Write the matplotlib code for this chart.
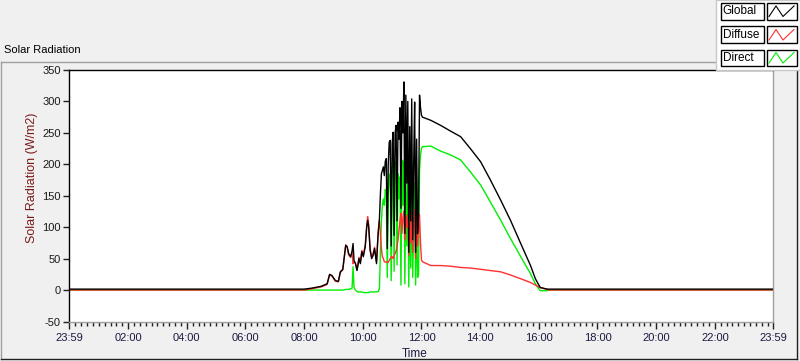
import matplotlib
matplotlib.use("Agg")
import matplotlib.pyplot as plt
from matplotlib.lines import Line2D
from matplotlib.patches import Rectangle
import numpy as np

# ---------------- data ----------------
time_labels = [
    "00:00", "08:00", "08:15", "08:35", "08:47", "08:52", "08:57", "09:04", "09:10", "09:14",
    "09:19", "09:25", "09:28", "09:31", "09:35", "09:38", "09:40", "09:42", "09:45", "09:48",
    "09:50", "09:52", "09:55", "09:58", "10:01", "10:05", "10:08", "10:10", "10:12", "10:15",
    "10:18", "10:21", "10:24", "10:28", "10:31", "10:32",
    "10:34", "10:36", "10:38", "10:40", "10:42", "10:44", "10:46", "10:48", "10:50", "10:52",
    "10:54", "10:56", "10:58", "11:00", "11:02", "11:04", "11:06", "11:08", "11:10", "11:12",
    "11:14", "11:16", "11:18", "11:20", "11:22", "11:24", "11:26", "11:28", "11:30", "11:32",
    "11:34", "11:36", "11:38", "11:40", "11:42", "11:44", "11:46", "11:48", "11:50", "11:52",
    "11:54", "11:56", "11:58", "12:00", "12:02",
    "12:19", "12:39", "12:59", "13:20", "13:40", "14:01", "14:21", "14:42", "15:02", "15:23",
    "15:43", "15:53", "16:00", "16:03", "16:17", "16:20", "23:59",
]

global_rad = [
    1.5, 1.5, 3, 6, 10, 25, 23, 15, 14, 29,
    33, 71, 69, 58, 53, 62, 74, 47, 42, 31,
    39, 50, 42, 61, 53, 69, 100, 111, 100, 63,
    50, 55, 66, 42, 85, 95,
    114, 153, 185, 190, 196, 182, 205, 209, 66, 200,
    235, 238, 70, 233, 251, 87, 249, 262, 110, 267,
    240, 290, 130, 300, 250, 331, 90, 310, 170, 300,
    60, 260, 110, 304, 80, 200, 299, 60, 240, 90,
    120, 310, 290, 278, 275,
    270, 262, 253, 244, 225, 204, 175, 143, 111, 74,
    39, 18, 8, 4, 1.5, 1.5, 1.5,
]

diffuse_rad = [
    0, 0, 2, 5, 9, 24, 22, 14, 13, 28,
    32, 72, 68, 56, 52, 60, 42, 45, 43, 33,
    41, 52, 45, 63, 56, 72, 104, 117, 104, 66,
    53, 58, 68, 45, 88, 98,
    111, 90, 66, 53, 50, 45, 45, 44, 45, 44,
    47, 50, 53, 53, 50, 55, 58, 62, 70, 80,
    95, 110, 122, 90, 115, 125, 80, 118, 100, 120,
    55, 110, 75, 125, 60, 100, 128, 50, 115, 70,
    95, 120, 75, 48, 45,
    39, 39, 38, 36, 35, 33, 31, 29, 24, 18,
    12, 8, 5, 4, 1, 0, 0,
]

direct_rad = [
    0, 0, 0, 0, 0, 0, 0, 0, 0, 0,
    0, 1, 1, 1, 2, 3, 37, 4, 0, -2,
    -3, -3, -3, -3, -4, -4, -4, -4, -4, -3,
    -3, -3, -3, -3, -2, -2,
    3, 63, 110, 135, 145, 135, 160, 151, 20, 150,
    182, 185, 15, 175, 200, 30, 190, 204, 40, 185,
    145, 180, 8, 207, 135, 205, 10, 190, 70, 180,
    5, 150, 35, 178, 20, 100, 170, 8, 125, 20,
    25, 190, 215, 225, 228,
    229, 221, 215, 207, 188, 167, 140, 111, 82, 53,
    26, 10, 2, -1, -1, 0, 0,
]

series_names = ["Global", "Diffuse", "Direct"]
series_colors = ["#000000", "#ff3030", "#00ee00"]

x_tick_labels = ["23:59", "02:00", "04:00", "06:00", "08:00", "10:00", "12:00",
                 "14:00", "16:00", "18:00", "20:00", "22:00", "23:59"]
y_ticks = [-50, 0, 50, 100, 150, 200, 250, 300, 350]

# ---------------- helpers ----------------
W, H = 800, 361


def fx(x):
    return x / W


def fy(y):
    return 1 - y / H


def to_hours(s):
    hh, mm = s.split(":")
    return int(hh) + int(mm) / 60.0


hours = [to_hours(s) for s in time_labels]
hours[0] = -1 / 60.0

plt.rcParams['font.family'] = ['Liberation Sans', 'DejaVu Sans']

fig = plt.figure(figsize=(W / 100, H / 100), dpi=100)
fig.patch.set_facecolor("#f0f0f0")

# outer panel frame
fig.add_artist(Line2D([fx(1), fx(1)], [fy(62), fy(359)], color="#a0a0a0", lw=1))
fig.add_artist(Line2D([fx(1), fx(797)], [fy(62), fy(62)], color="#a0a0a0", lw=1))
fig.add_artist(Line2D([fx(1), fx(797)], [fy(359), fy(359)], color="#202020", lw=1))
fig.add_artist(Line2D([fx(797), fx(797)], [fy(62), fy(359)], color="#202020", lw=1))

fig.text(fx(4), fy(50), "Solar Radiation", fontsize=8, color="#000000",
         ha="left", va="center")

ax = fig.add_axes([fx(69), fy(321.5), (773 - 69) / W, (321.5 - 70) / H])
ax.set_facecolor("white")

zorders = [3, 2, 1]
for vals, c, z in zip([global_rad, diffuse_rad, direct_rad], series_colors, zorders):
    ax.plot(hours, vals, color=c, lw=1.0, zorder=z)

ax.set_xlim(-1 / 60.0, 24 - 1 / 60.0)
ax.set_ylim(-50, 350)

major_x = [-1 / 60.0] + list(range(2, 24, 2)) + [24 - 1 / 60.0]
ax.set_xticks(major_x)
ax.set_xticklabels(x_tick_labels)
ax.set_xticks([m for m in np.arange(0.2, 24, 0.2) if abs(m / 2 - round(m / 2)) > 1e-6],
              minor=True)
ax.set_yticks(y_ticks)
ax.set_yticklabels([str(v) for v in y_ticks])

ax.tick_params(axis="x", which="major", direction="out", length=5, width=1,
               color="#202020", labelsize=8, labelcolor="#1a1a40", pad=3)
ax.tick_params(axis="x", which="minor", direction="out", length=3, width=1,
               color="#202020")
ax.tick_params(axis="y", which="major", direction="out", length=4, width=1,
               color="#202020", labelsize=8, labelcolor="#1a1a1a", pad=2)

ax.spines["top"].set_color("#000000")
ax.spines["left"].set_color("#000000")
ax.spines["right"].set_color("#a0a0a0")
ax.spines["bottom"].set_color("#a0a0a0")
for s in ax.spines.values():
    s.set_linewidth(1)

fig.text(fx(32), fy(178), "Solar Radiation (W/m2)", rotation=90, fontsize=9,
         color="#7a1a1a", ha="center", va="center")
fig.text(fx(415), fy(354), "Time", fontsize=8.5, color="#1a1a40",
         ha="center", va="center")

# ---------------- legend ----------------
fig.add_artist(Rectangle((fx(716), fy(70)), fx(800) - fx(716), fy(0) - fy(70),
                         transform=fig.transFigure, facecolor="#ffffff",
                         edgecolor="#c8c8c8", lw=1, zorder=10))
rows = [(3, 19.5), (26.5, 43), (49.5, 66)]
for (y0, y1), name, c in zip(rows, series_names, series_colors):
    fig.add_artist(Rectangle((fx(720.5), fy(y1)), fx(763.5) - fx(720.5), fy(y0) - fy(y1),
                             transform=fig.transFigure, facecolor="white",
                             edgecolor="black", lw=1, zorder=11))
    fig.text(fx(722.5), fy((y0 + y1) / 2), name, fontsize=8.5, color="black",
             ha="left", va="center", zorder=12)
    fig.add_artist(Rectangle((fx(767), fy(y1)), fx(797) - fx(767), fy(y0) - fy(y1),
                             transform=fig.transFigure, facecolor="white",
                             edgecolor="black", lw=1, zorder=11))
    xs = [769, 776, 783, 794]
    ys = [y1 - 3, y0 + 3, y1 - 3, y0 + 3]
    fig.add_artist(Line2D([fx(v) for v in xs], [fy(v) for v in ys], color=c,
                          lw=0.8, zorder=12))

fig.savefig("out.png", dpi=100, facecolor=fig.get_facecolor())
